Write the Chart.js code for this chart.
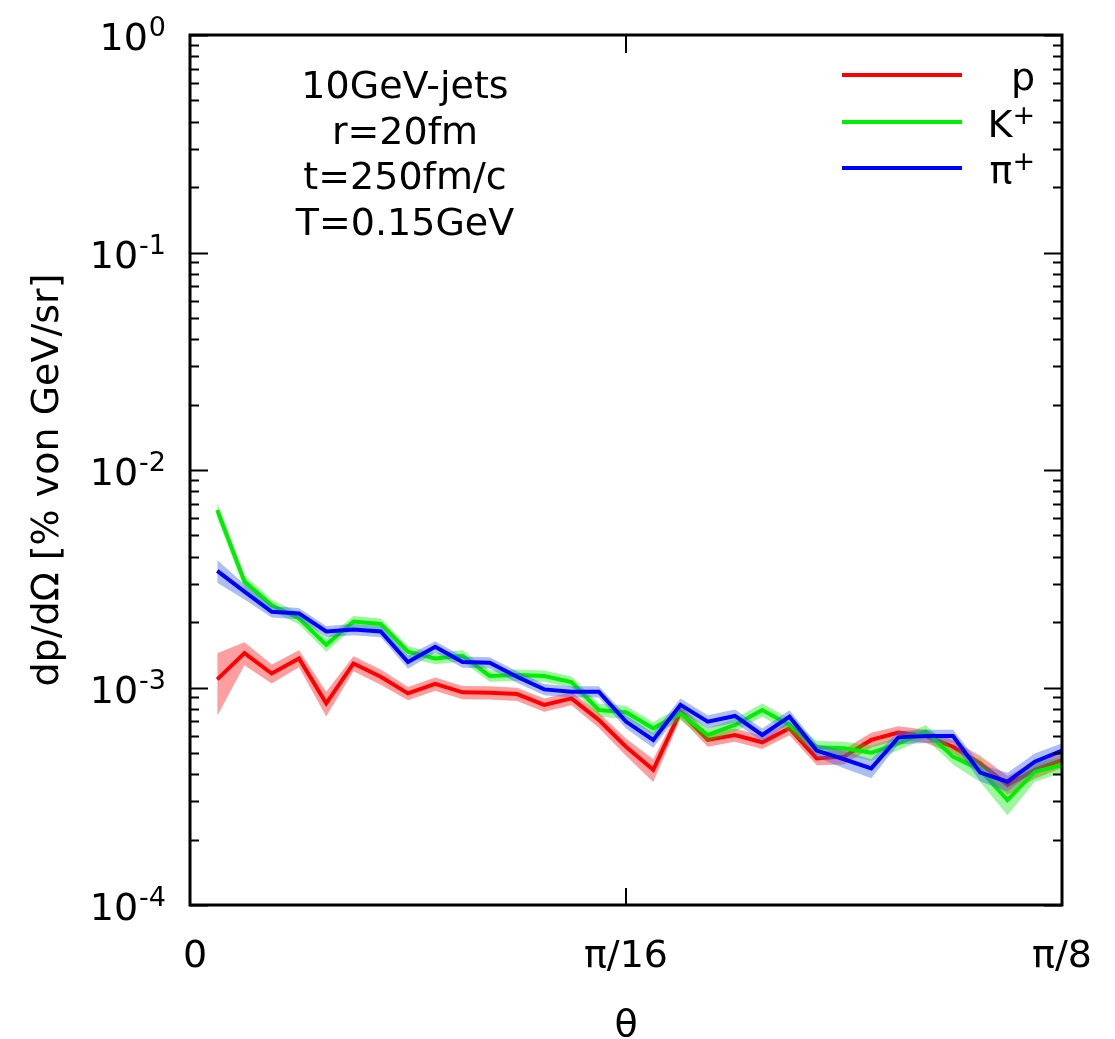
<!DOCTYPE html>
<html>
<head>
<meta charset="utf-8">
<script src="https://cdn.jsdelivr.net/npm/chart.js@4/dist/chart.umd.min.js"></script>
<style>
  html, body { margin: 0; padding: 0; background: #fff; }
  #wrap { width: 1115px; height: 1039px; }
</style>
</head>
<body>
<div id="wrap"><canvas id="c" width="1115" height="1039"></canvas></div>
<script>
// ---- data ----
const binNumbers = [1,2,3,4,5,6,7,8,9,10,11,12,13,14,15,16,17,18,19,20,21,22,23,24,25,26,27,28,29,30,31,32];
const binWidth = Math.PI / 256;               // theta step of the histogram
const theta = binNumbers.map(n => n * binWidth);

const seriesNames = ['p', 'K', 'π'];
const seriesSup = ['', '+', '+'];

const protonValues = [0.00109,0.00144,0.00116,0.00136,0.000846,0.00129,0.00112,0.00094,0.00104,0.00095,
  0.000947,0.000933,0.000832,0.000891,0.00071,0.000534,0.000418,0.000774,0.000574,0.000605,
  0.00056,0.000649,0.000472,0.000481,0.000574,0.00062,0.000598,0.000534,0.000448,0.000356,0.000418,0.000464];
const protonErr = [0.32,0.12,0.10,0.09,0.13,0.08,0.08,0.07,0.07,0.07,0.07,0.07,0.07,0.07,0.08,0.09,
  0.12,0.07,0.07,0.07,0.07,0.07,0.07,0.08,0.08,0.07,0.07,0.07,0.08,0.10,0.09,0.08];

const kaonValues = [0.00655,0.00307,0.00239,0.00208,0.00157,0.00201,0.00196,0.00146,0.00136,0.0014,
  0.00113,0.00114,0.00113,0.00106,0.000788,0.00077,0.000649,0.00076,0.000605,0.000673,
  0.000788,0.000673,0.000531,0.000526,0.000501,0.000554,0.000627,0.000481,0.000418,0.000304,0.00041,0.000441];
const kaonErr = [0.08,0.07,0.06,0.06,0.07,0.06,0.06,0.06,0.06,0.06,0.06,0.06,0.06,0.06,0.07,0.07,
  0.07,0.07,0.07,0.07,0.07,0.07,0.07,0.07,0.08,0.07,0.07,0.08,0.12,0.15,0.10,0.08];

const pionValues = [0.00344,0.00276,0.00223,0.00219,0.00181,0.00185,0.00181,0.00131,0.00154,0.00131,
  0.0013,0.00112,0.00098,0.000957,0.000957,0.000697,0.000574,0.000832,0.000697,0.00074,
  0.000605,0.000734,0.000513,0.000468,0.000425,0.00059,0.000598,0.000598,0.000406,0.000369,0.000456,0.000513];
const pionErr = [0.12,0.08,0.06,0.06,0.06,0.06,0.06,0.07,0.06,0.06,0.06,0.06,0.06,0.06,0.06,0.07,
  0.08,0.07,0.07,0.07,0.07,0.07,0.07,0.09,0.10,0.07,0.07,0.07,0.09,0.10,0.09,0.08];

const xTickValues = [0, Math.PI / 16, Math.PI / 8];
const xTickLabels = ['0', 'π/16', 'π/8'];
const yTickExponents = [0, -1, -2, -3, -4];
const annotationLines = ['10GeV-jets', 'r=20fm', 't=250fm/c', 'T=0.15GeV'];
const xTitle = 'θ';
const yTitle = 'dp/dΩ [% von GeV/sr]';

// ---- styles ----
const lineColors = ['#ff0000', '#00ee00', '#0000ff'];
const bandColors = ['rgba(255,0,0,0.38)', 'rgba(0,235,0,0.38)', 'rgba(60,100,230,0.42)'];
const FONT = "'DejaVu Sans', sans-serif";

function makeSeries(values, err, idx, orderBase) {
  const upper = values.map((v, i) => ({ x: theta[i], y: v * (1 + err[i]) }));
  const lower = values.map((v, i) => ({ x: theta[i], y: v * (1 - err[i]) }));
  const line = values.map((v, i) => ({ x: theta[i], y: v }));
  return [
    { data: upper, fill: '+1', backgroundColor: bandColors[idx], borderWidth: 0, pointRadius: 0, order: orderBase + 1 },
    { data: lower, fill: false, borderWidth: 0, pointRadius: 0, order: orderBase + 1 },
    { data: line, fill: false, borderColor: lineColors[idx], borderWidth: 4, pointRadius: 0, order: orderBase }
  ];
}

const datasets = [
  ...makeSeries(protonValues, protonErr, 0, 4),
  ...makeSeries(kaonValues, kaonErr, 1, 2),
  ...makeSeries(pionValues, pionErr, 2, 0)
];

const decorPlugin = {
  id: 'decor',
  afterDraw(chart) {
    const ctx = chart.ctx;
    const a = chart.chartArea;
    const xs = chart.scales.x, ys = chart.scales.y;
    ctx.save();
    ctx.strokeStyle = '#000';
    ctx.fillStyle = '#000';
    // y ticks (major + minor), both sides, pointing inward
    ctx.lineWidth = 2;
    for (let e = -4; e <= 0; e++) {
      for (let m = 1; m <= 9; m++) {
        const v = m * Math.pow(10, e);
        if (v > 1.0000001) break;
        const py = Math.round(ys.getPixelForValue(v)) + 0.5;
        const len = (m === 1) ? 18 : 9;
        ctx.beginPath();
        ctx.moveTo(a.left, py); ctx.lineTo(a.left + len, py);
        ctx.moveTo(a.right, py); ctx.lineTo(a.right - len, py);
        ctx.stroke();
      }
    }
    // x ticks, bottom and top
    xTickValues.forEach(v => {
      const px = Math.round(xs.getPixelForValue(v));
      ctx.beginPath();
      ctx.moveTo(px, a.bottom); ctx.lineTo(px, a.bottom - 17);
      ctx.moveTo(px, a.top); ctx.lineTo(px, a.top + 18);
      ctx.stroke();
    });
    // frame
    ctx.lineWidth = 3;
    ctx.strokeRect(a.left, a.top, a.right - a.left, a.bottom - a.top);

    // y tick labels 10^e
    yTickExponents.forEach(e => {
      const py = ys.getPixelForValue(Math.pow(10, e));
      const sup = String(e);
      ctx.font = '27px ' + FONT;
      const sw = ctx.measureText(sup).width;
      ctx.textAlign = 'left';
      ctx.textBaseline = 'alphabetic';
      const right = 166;
      ctx.fillText(sup, right - sw, py + 1);
      ctx.font = '38px ' + FONT;
      ctx.textAlign = 'right';
      ctx.fillText('10', right - sw - 1, py + 15);
    });
    // x tick labels
    ctx.font = '38px ' + FONT;
    ctx.textAlign = 'center';
    ctx.textBaseline = 'alphabetic';
    xTickValues.forEach((v, i) => {
      const px = xs.getPixelForValue(v);
      ctx.fillText(xTickLabels[i], px + (i === 0 ? 5 : 0), 967);
    });
    // x title
    ctx.fillText(xTitle, (a.left + a.right) / 2, 1036);
    // y title
    ctx.save();
    ctx.translate(58, 480);
    ctx.rotate(-Math.PI / 2);
    ctx.textAlign = 'center';
    ctx.fillText(yTitle, 0, 0);
    ctx.restore();

    // annotation
    ctx.textAlign = 'center';
    annotationLines.forEach((t, i) => {
      ctx.fillText(t, 405, 98 + i * 45.7);
    });

    // legend
    const legY = [75, 122, 168];
    seriesNames.forEach((name, i) => {
      const y = legY[i];
      ctx.strokeStyle = lineColors[i];
      ctx.lineWidth = 4;
      ctx.beginPath();
      ctx.moveTo(842, y); ctx.lineTo(962, y);
      ctx.stroke();
      const right = 1035;
      ctx.textAlign = 'right';
      let r = right;
      if (seriesSup[i]) {
        ctx.font = '27px ' + FONT;
        const sw = ctx.measureText(seriesSup[i]).width;
        ctx.fillText(seriesSup[i], right, y + 2);
        r = right - sw;
      }
      ctx.font = '38px ' + FONT;
      ctx.fillText(name, r, y + 15);
    });
    ctx.restore();
  }
};

new Chart(document.getElementById('c'), {
  type: 'line',
  data: { datasets },
  options: {
    responsive: false,
    animation: false,
    layout: { padding: { left: 190, right: 53, top: 35, bottom: 134 } },
    plugins: { legend: { display: false }, tooltip: { enabled: false }, filler: { propagate: false } },
    elements: { line: { tension: 0 } },
    scales: {
      x: { type: 'linear', min: 0, max: Math.PI / 8, display: false },
      y: { type: 'logarithmic', min: 1e-4, max: 1, display: false }
    }
  },
  plugins: [decorPlugin]
});
</script>
</body>
</html>
